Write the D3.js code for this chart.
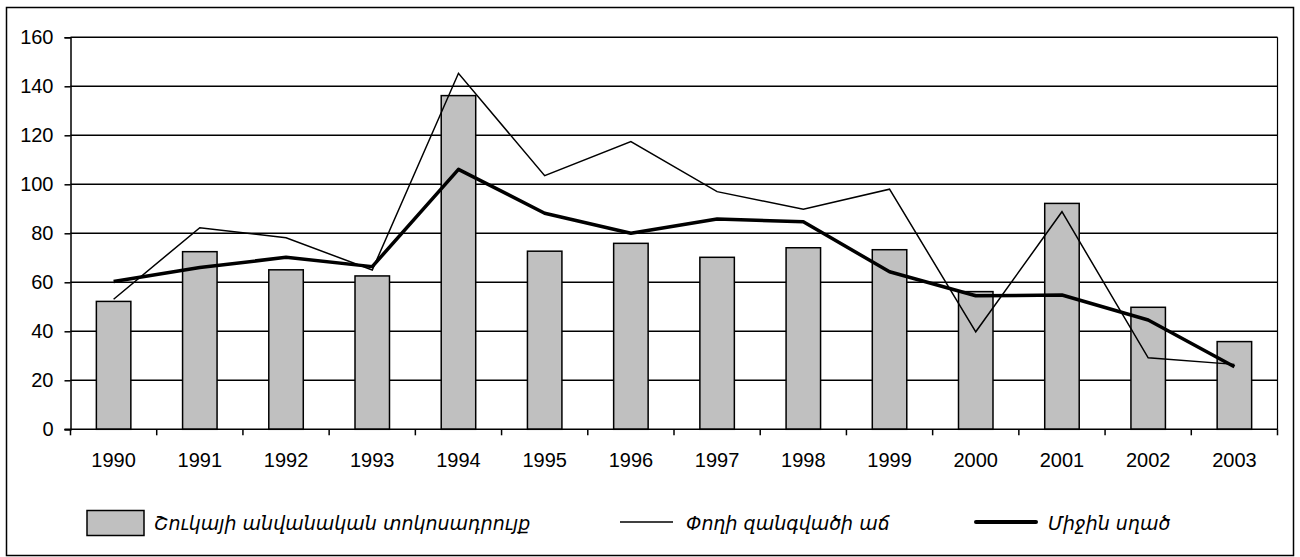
<!DOCTYPE html>
<html>
<head>
<meta charset="utf-8">
<script src="https://cdn.jsdelivr.net/npm/d3@7"></script>
<style>
  body { margin: 0; background: #fff; }
  svg { display: block; }
</style>
</head>
<body>
<div id="chart"></div>
<script>
// data
const years = ['1990', '1991', '1992', '1993', '1994', '1995', '1996',
               '1997', '1998', '1999', '2000', '2001', '2002', '2003'];
const rateValues = [52.2, 72.5, 65.1, 62.6, 136.2, 72.7, 75.9,
                    70.2, 74.1, 73.3, 56.2, 92.2, 49.8, 35.8];
const moneyValues = [53.1, 82.3, 78.2, 65.0, 145.3, 103.5, 117.4,
                     97.0, 89.8, 98.0, 39.8, 88.8, 29.2, 26.5];
const avgValues = [60.3, 66.0, 70.2, 66.4, 106.1, 88.2, 80.0,
                   85.8, 84.7, 64.3, 54.5, 54.8, 44.6, 25.5];
const yTicks = [0, 20, 40, 60, 80, 100, 120, 140, 160];
const legendLabels = ['Շուկայի անվանական տոկոսադրույք', 'Փողի զանգվածի աճ', 'Միջին սղած'];

const width = 1300, height = 557;
const plotLeft = 70.5, plotRight = 1277.5, plotTop = 37.3, plotBottom = 429.3;

const svg = d3.select('#chart').append('svg')
  .attr('width', width)
  .attr('height', height);

// outer frame
svg.append('rect')
  .attr('x', 6.5).attr('y', 7.5)
  .attr('width', 1287).attr('height', 548)
  .attr('fill', 'none')
  .attr('stroke', '#000')
  .attr('stroke-width', 1.5);

const x = d3.scaleBand()
  .domain(years)
  .range([plotLeft, plotRight])
  .paddingInner(0);
const y = d3.scaleLinear()
  .domain([0, 160])
  .range([plotBottom, plotTop]);

// gridlines
svg.append('g')
  .selectAll('line')
  .data(yTicks.slice(1))
  .join('line')
    .attr('x1', plotLeft).attr('x2', plotRight)
    .attr('y1', d => y(d)).attr('y2', d => y(d))
    .attr('stroke', '#000')
    .attr('stroke-width', 1.5);

// right border of plot area
svg.append('line')
  .attr('x1', plotRight).attr('x2', plotRight)
  .attr('y1', plotTop).attr('y2', plotBottom)
  .attr('stroke', '#000')
  .attr('stroke-width', 1.2);

// bars
const barW = x.bandwidth() / 2.5;
svg.append('g')
  .selectAll('rect')
  .data(rateValues)
  .join('rect')
    .attr('x', (d, i) => x(years[i]) + x.bandwidth() / 2 - barW / 2)
    .attr('y', d => y(d))
    .attr('width', barW)
    .attr('height', d => y(0) - y(d))
    .attr('fill', '#c0c0c0')
    .attr('stroke', '#000')
    .attr('stroke-width', 1.5);

// y axis
const yAxis = d3.axisLeft(y)
  .tickValues(yTicks)
  .tickSize(6)
  .tickPadding(11);
svg.append('g')
  .attr('transform', `translate(${plotLeft}, 0)`)
  .call(yAxis)
  .call(g => g.select('.domain').attr('stroke-width', 1.5))
  .call(g => g.selectAll('.tick line').attr('stroke-width', 1.5))
  .call(g => g.selectAll('text')
    .attr('font-family', 'Liberation Sans, Arial, sans-serif')
    .attr('font-size', '20px')
    .attr('fill', '#000'));

// x axis: ticks on category boundaries
svg.append('line')
  .attr('x1', plotLeft - 6).attr('x2', plotRight)
  .attr('y1', plotBottom).attr('y2', plotBottom)
  .attr('stroke', '#000')
  .attr('stroke-width', 1.5);
const boundaries = years.map(d => x(d)).concat([plotRight]);
svg.append('g')
  .selectAll('line')
  .data(boundaries)
  .join('line')
    .attr('x1', d => d).attr('x2', d => d)
    .attr('y1', plotBottom).attr('y2', plotBottom + 6)
    .attr('stroke', '#000')
    .attr('stroke-width', 1.5);
svg.append('g')
  .selectAll('text')
  .data(years)
  .join('text')
    .attr('x', d => x(d) + x.bandwidth() / 2)
    .attr('y', 467)
    .attr('text-anchor', 'middle')
    .attr('font-family', 'Liberation Sans, Arial, sans-serif')
    .attr('font-size', '20px')
    .text(d => d);

// lines
const cx = i => x(years[i]) + x.bandwidth() / 2;
const line = d3.line()
  .x((d, i) => cx(i))
  .y(d => y(d));
svg.append('path')
  .datum(moneyValues)
  .attr('d', line)
  .attr('fill', 'none')
  .attr('stroke', '#000')
  .attr('stroke-width', 1.5);
svg.append('path')
  .datum(avgValues)
  .attr('d', line)
  .attr('fill', 'none')
  .attr('stroke', '#000')
  .attr('stroke-width', 3.5)
  .attr('stroke-linejoin', 'round');

// legend
const legY = 522;
const legend = svg.append('g')
  .attr('font-family', 'DejaVu Sans, sans-serif')
  .attr('font-style', 'italic')
  .attr('font-size', '19px');
legend.append('rect')
  .attr('x', 87).attr('y', 510.5)
  .attr('width', 57).attr('height', 25)
  .attr('fill', '#c0c0c0')
  .attr('stroke', '#000')
  .attr('stroke-width', 1.5);
legend.append('text')
  .attr('x', 154).attr('y', legY + 8)
  .text(legendLabels[0]);
legend.append('line')
  .attr('x1', 620).attr('x2', 673)
  .attr('y1', legY).attr('y2', legY)
  .attr('stroke', '#000')
  .attr('stroke-width', 1.5);
legend.append('text')
  .attr('x', 686).attr('y', legY + 8)
  .text(legendLabels[1]);
legend.append('line')
  .attr('x1', 976).attr('x2', 1036)
  .attr('y1', legY).attr('y2', legY)
  .attr('stroke', '#000')
  .attr('stroke-width', 4)
  .attr('stroke-linecap', 'round');
legend.append('text')
  .attr('x', 1048).attr('y', legY + 8)
  .text(legendLabels[2]);
</script>
</body>
</html>
